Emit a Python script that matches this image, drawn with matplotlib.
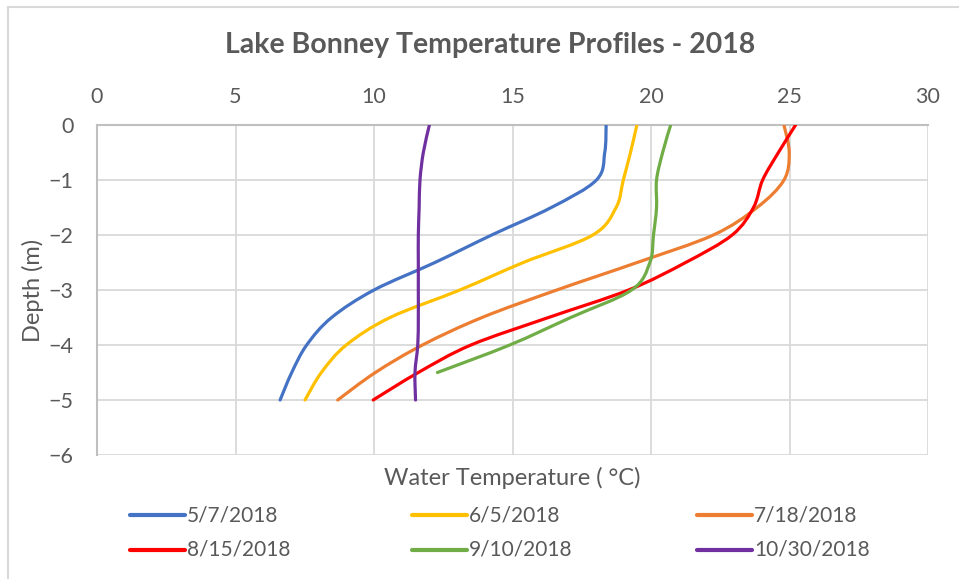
import matplotlib.pyplot as plt
from matplotlib.path import Path
from matplotlib.patches import PathPatch
from matplotlib.lines import Line2D

plt.rcParams['font.family'] = ['Lato', 'DejaVu Sans']

# depths (m) and temperature profiles (degC)
depth = [0, -0.5, -1, -1.5, -2, -2.5, -3, -3.5, -4, -4.5, -5]
depth_sep = [0, -0.5, -1, -1.5, -2, -2.5, -3, -3.5, -4, -4.5]

t_0507 = [18.38, 18.33, 18.03, 16.4, 14.25, 12.2, 10.0, 8.47, 7.57, 7.03, 6.61]
t_0605 = [19.49, 19.26, 19.0, 18.74, 17.9, 15.39, 13.1, 10.58, 9.0, 8.1, 7.51]
t_0718 = [24.8, 24.99, 24.8, 23.83, 22.25, 19.5, 16.6, 13.9, 11.75, 10.05, 8.69]
t_0815 = [25.22, 24.6, 24.03, 23.7, 22.93, 21.25, 19.19, 16.3, 13.5, 11.6, 9.97]
t_0910 = [20.71, 20.42, 20.2, 20.2, 20.09, 19.96, 19.3, 17.1, 14.9, 12.29]
t_1030 = [12.0, 11.78, 11.66, 11.63, 11.6, 11.6, 11.6, 11.6, 11.58, 11.48, 11.5]

labels = ['5/7/2018', '6/5/2018', '7/18/2018', '8/15/2018', '9/10/2018', '10/30/2018']
colors = ['#4472c4', '#ffc000', '#ed7d31', '#ff0000', '#70ad47', '#7030a0']
series = [(t_0507, depth), (t_0605, depth), (t_0718, depth),
          (t_0815, depth), (t_0910, depth_sep), (t_1030, depth)]


def smooth_path(xs, ys):
    # Excel-style smoothed line: cubic Bezier through the points
    pts = list(zip(xs, ys))
    n = len(pts)
    verts = [pts[0]]
    codes = [Path.MOVETO]
    for i in range(n - 1):
        p0 = pts[i - 1] if i > 0 else pts[i]
        p1 = pts[i]
        p2 = pts[i + 1]
        p3 = pts[i + 2] if i + 2 < n else pts[i + 1]
        c1 = (p1[0] + (p2[0] - p0[0]) / 6, p1[1] + (p2[1] - p0[1]) / 6)
        c2 = (p2[0] - (p3[0] - p1[0]) / 6, p2[1] - (p3[1] - p1[1]) / 6)
        verts += [c1, c2, p2]
        codes += [Path.CURVE4] * 3
    return Path(verts, codes)


W, H = 959, 579
fig = plt.figure(figsize=(W / 100, H / 100), dpi=100)
ax = fig.add_axes([97 / W, 1 - 455 / H, (928 - 97) / W, (455 - 125) / H])

grid_c = '#d9d9d9'
axis_c = '#bfbfbf'
text_c = '#595959'

for (xs, ys), c in zip(series, colors):
    ax.add_patch(PathPatch(smooth_path(xs, ys), facecolor='none', edgecolor=c,
                           lw=2.3, capstyle='round', joinstyle='round', zorder=3))

ax.set_xlim(0, 30)
ax.set_ylim(-6, 0)
ax.set_xticks(range(0, 31, 5))
ax.set_yticks(range(-6, 1))
ax.xaxis.tick_top()
ax.grid(True, color=grid_c, lw=1.3)
ax.set_axisbelow(True)
ax.tick_params(length=0, labelsize=15.5, labelcolor=text_c)
ax.tick_params(axis='x', pad=13)
ax.tick_params(axis='y', pad=17)
for s in ['right', 'bottom']:
    ax.spines[s].set_visible(False)
for s in ['top', 'left']:
    ax.spines[s].set_color(axis_c)
    ax.spines[s].set_linewidth(1.5)

fig.text(33 / W, 1 - 290 / H, 'Depth (m)', fontsize=17, color=text_c,
         ha='center', va='center', rotation=90)
fig.text(512 / W, 1 - 478 / H, 'Water Temperature ( °C)', fontsize=17,
         color=text_c, ha='center', va='center')
fig.text(490 / W, 1 - 45 / H, 'Lake Bonney Temperature Profiles - 2018',
         fontsize=20.5, fontweight='bold', color=text_c, ha='center', va='center')

# legend: 3 columns x 2 rows, filled row by row
col_x = [130, 412, 697]
row_y = [515, 550]
for i, (lab, c) in enumerate(zip(labels, colors)):
    x0 = col_x[i % 3]
    y0 = 1 - row_y[i // 3] / H
    fig.add_artist(Line2D([x0 / W, (x0 + 55) / W], [y0, y0], color=c, lw=3,
                          solid_capstyle='round'))
    fig.text((x0 + 57) / W, y0, lab, fontsize=15, color=text_c,
             ha='left', va='center')

# chart area border (left and top edges visible)
fig.add_artist(Line2D([8 / W, 8 / W], [0, 1 - 7 / H], color=grid_c, lw=1.5))
fig.add_artist(Line2D([8 / W, 1], [1 - 7 / H, 1 - 7 / H], color=grid_c, lw=1.5))

fig.savefig('out.png', dpi=100)
